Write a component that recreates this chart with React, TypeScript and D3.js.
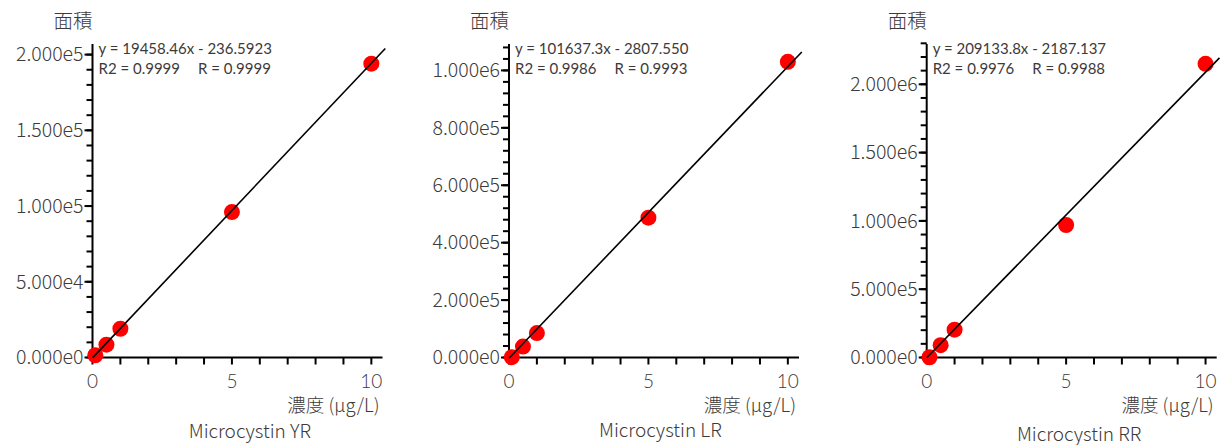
import React from 'react';
import * as d3 from 'd3';

// calibration data
const concentrations = [0.1, 0.5, 1, 5, 10];
const areaYR = [1500, 8500, 19000, 96000, 194000];
const areaLR = [1000, 38000, 85000, 487000, 1030000];
const areaRR = [2000, 90000, 204000, 970000, 2150000];

const titles = ['Microcystin YR', 'Microcystin LR', 'Microcystin RR'];
const slopes = [19458.46, 101637.3, 209133.8];
const intercepts = [-236.5923, -2807.55, -2187.137];
const eqLines = ['y = 19458.46x - 236.5923', 'y = 101637.3x - 2807.550', 'y = 209133.8x - 2187.137'];
const r2Lines = ['R2 = 0.9999', 'R2 = 0.9986', 'R2 = 0.9976'];
const rLines = ['R = 0.9999', 'R = 0.9993', 'R = 0.9988'];

const yMaxes = [207000, 1092000, 2295000];
const yMinorSteps = [10000, 40000, 100000];
const yMajorSteps = [50000, 200000, 500000];
const yTickTops = [200000, 1080000, 2300000];
const yLabels = [
  ['0.000e0', '5.000e4', '1.000e5', '1.500e5', '2.000e5'],
  ['0.000e0', '2.000e5', '4.000e5', '6.000e5', '8.000e5', '1.000e6'],
  ['0.000e0', '5.000e5', '1.000e6', '1.500e6', '2.000e6'],
];
const xLabels = ['0', '5', '10'];
const xMinorTicks = [0, 1, 2, 3, 4, 5, 6, 7, 8, 9, 10];
const xMajorTicks = [0, 5, 10];

const seriesList = [areaYR, areaLR, areaRR];

// layout
const origins = [92.5, 509, 926.7];
const titleShift = [18, 12, 13];
const titleY = [438, 437, 441];
const axisLen = 290;
const xMax = 10.4;
const yBottom = 357.5;
const yTop = 44;
const font = '"Noto Sans CJK JP", "Noto Sans", sans-serif';
const latFont = 'Lato, "Noto Sans", sans-serif';
const textColor = '#3d3a39';
const fw = 300;

const Panel = ({ idx }: { idx: number }) => {
  const ox = origins[idx];
  const x = d3.scaleLinear().domain([0, xMax]).range([ox, ox + axisLen]);
  const y = d3.scaleLinear().domain([0, yMaxes[idx]]).range([yBottom, yTop]);
  const data = seriesList[idx];
  const minor = d3.range(0, yTickTops[idx] + 1, yMinorSteps[idx]);
  const major = d3.range(0, yTickTops[idx] + 1, yMajorSteps[idx]);
  const fit = (c: number) => slopes[idx] * c + intercepts[idx];
  const lineGen = d3.line<number>().x(d => x(d)).y(d => y(fit(d)));

  return (
    <g fontFamily={font} fontWeight={fw} fill={textColor}>
      {/* y label */}
      <text x={ox} y={28} textAnchor="end" fontSize={19.5}>面積</text>

      {/* y ticks */}
      {minor.map(v => (
        <line key={'ym' + v} x1={ox - 6} x2={ox} y1={y(v)} y2={y(v)} stroke="#000" strokeWidth={2} />
      ))}
      {major.map((v, i) => (
        <g key={'yM' + v}>
          <line x1={ox - 8} x2={ox} y1={y(v)} y2={y(v)} stroke="#000" strokeWidth={2} />
          <text x={ox - 9} y={y(v)} dy="0.35em" textAnchor="end" fontSize={19.5}>
            {yLabels[idx][i]}
          </text>
        </g>
      ))}

      {/* x ticks */}
      {xMinorTicks.map(v => (
        <line key={'xm' + v} x1={x(v)} x2={x(v)} y1={yBottom} y2={yBottom + 7} stroke="#000" strokeWidth={2} />
      ))}
      {xMajorTicks.map((v, i) => (
        <text key={'xM' + v} x={x(v)} y={388} textAnchor="middle" fontSize={19} fontFamily={latFont}>
          {xLabels[i]}
        </text>
      ))}

      {/* axes */}
      <line x1={ox} x2={ox} y1={yTop} y2={yBottom + 1} stroke="#000" strokeWidth={2} />
      <line x1={ox - 1} x2={ox + axisLen} y1={yBottom} y2={yBottom} stroke="#000" strokeWidth={2} />

      {/* x label */}
      <text x={ox + axisLen - 3} y={412} textAnchor="end" fontSize={18.5}>
        濃度 (μg/L)
      </text>
      <text x={x(5) + titleShift[idx]} y={titleY[idx]} textAnchor="middle" fontSize={19}>
        {titles[idx]}
      </text>

      {/* points */}
      {data.map((v, i) => (
        <circle key={'p' + i} cx={x(concentrations[i])} cy={y(v)} r={8} fill="#ff0000" />
      ))}

      {/* regression line */}
      <path d={lineGen([0, 10.5]) || ''} fill="none" stroke="#000" strokeWidth={1.6} />

      {/* equation */}
      <text x={ox + 6} y={54} fontSize={15} fontWeight={400} fontFamily={latFont}>{eqLines[idx]}</text>
      <text x={ox + 6} y={74} fontSize={15} fontWeight={400} fontFamily={latFont}>
        {r2Lines[idx]}
        <tspan dx={18}>{rLines[idx]}</tspan>
      </text>
    </g>
  );
};

export default function App() {
  return (
    <svg width={1222} height={445} style={{ position: 'absolute', left: 0, top: 0, background: '#fff' }}>
      {[0, 1, 2].map(i => <Panel key={i} idx={i} />)}
    </svg>
  );
}
